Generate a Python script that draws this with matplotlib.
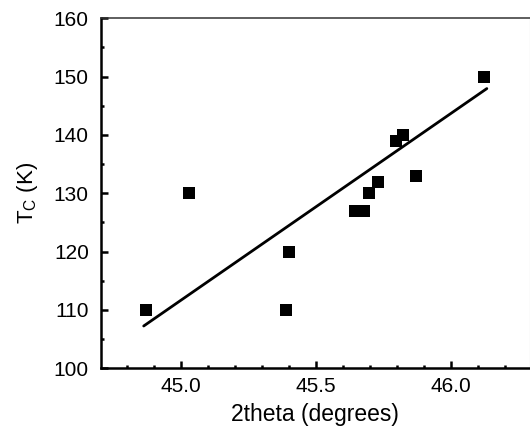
import numpy as np
import matplotlib
matplotlib.use("Agg")
import matplotlib.pyplot as plt
from matplotlib.ticker import MultipleLocator

plt.rcParams["font.family"] = ["Liberation Sans", "DejaVu Sans"]
plt.rcParams["mathtext.fontset"] = "custom"
plt.rcParams["mathtext.rm"] = "Liberation Sans"

# Measured Tc against peak position
two_theta = [44.870, 45.028, 45.389, 45.398, 45.644, 45.676,
             45.696, 45.731, 45.797, 45.823, 45.870, 46.123]
tc = [110, 130, 110, 120, 127, 127, 130, 132, 139, 140, 133, 150]

# Trend line end points
fit_x = [44.862, 46.132]
fit_y = [107.25, 147.95]

fig = plt.figure(figsize=(5.30, 4.28), dpi=100)
ax = fig.add_axes([0.1911, 0.1395, 0.808, 0.8178])

ax.plot(fit_x, fit_y, color="black", lw=2.0, solid_capstyle="round")
ax.plot(two_theta, tc, "s", color="black", ms=9, mec="black", mew=0)

ax.set_xlim(44.705, 46.29)
ax.set_ylim(100, 160)
ax.xaxis.set_major_locator(MultipleLocator(0.5))
ax.xaxis.set_minor_locator(MultipleLocator(0.1))
ax.yaxis.set_major_locator(MultipleLocator(10))
ax.yaxis.set_minor_locator(MultipleLocator(5))
ax.xaxis.set_major_formatter(matplotlib.ticker.FormatStrFormatter("%.1f"))

ax.tick_params(which="both", direction="in", top=False, right=False, width=1.8)
ax.tick_params(which="major", length=5)
ax.tick_params(which="minor", length=2.2)
ax.tick_params(axis="x", which="major", labelsize=15, pad=6)
ax.tick_params(axis="y", which="major", labelsize=15, pad=9)

for side in ["left", "bottom"]:
    ax.spines[side].set_linewidth(1.8)
ax.spines["top"].set_linewidth(1.1)
ax.spines["top"].set_color("#333333")
ax.spines["right"].set_linewidth(0.8)
ax.spines["right"].set_color("#bbbbbb")

ax.set_xlabel("2theta (degrees)", fontsize=16.5, labelpad=5)
ax.set_ylabel(r"T$_{\mathrm{C}}$ (K)", fontsize=16, labelpad=10)

fig.savefig("out.png", dpi=100)
